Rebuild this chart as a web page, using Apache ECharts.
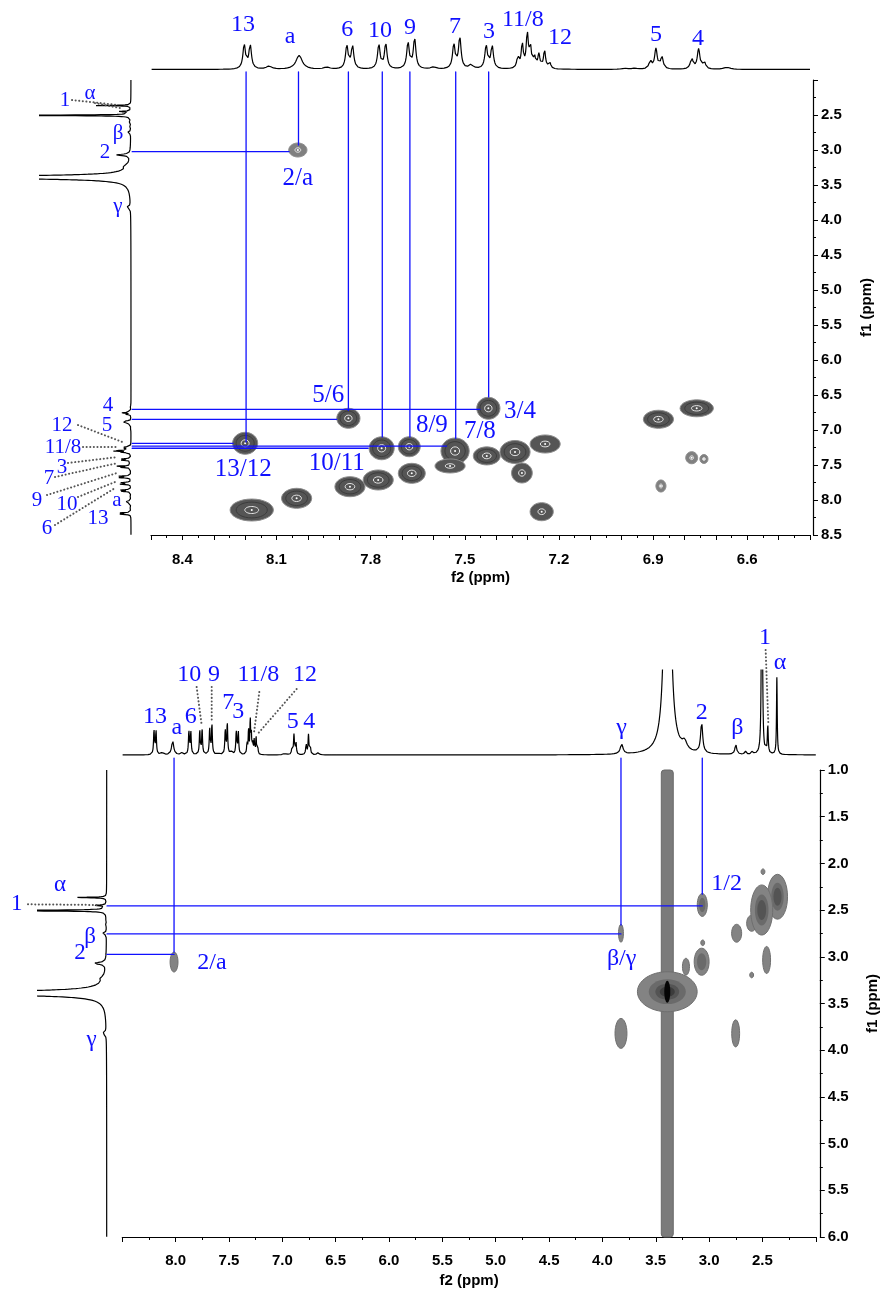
<!DOCTYPE html>
<html>
<head>
<meta charset="utf-8">
<script src="https://cdn.jsdelivr.net/npm/echarts@6/dist/echarts.min.js"></script>
<style>
  html, body { margin: 0; padding: 0; background: #fff; }
  #chart { width: 889px; height: 1300px; }
</style>
</head>
<body>
<div id="chart"></div>
<script>
// 1H peaks, aromatic region: shift (ppm), intensity, half width (ppm)
const aromPpm = [8.203, 8.184, 8.124, 8.028, 7.940, 7.876, 7.858, 7.774, 7.752, 7.681, 7.660, 7.600, 7.535, 7.516, 7.480, 7.432, 7.413, 7.331, 7.317, 7.301, 7.291, 7.278, 7.264, 7.246, 7.230, 6.990, 6.960, 6.909, 6.891, 6.872, 6.777, 6.755, 6.737, 6.665];
const aromInt = [24, 24, 3, 14, 2, 23, 23, 24, 25, 26, 30, 2, 24, 31, 4, 23, 23, 12, 24, 34, 20, 11, 14, 18, 7, 1, 1, 8, 20, 12, 11, 20, 7, 2];
const aromWid = [.005, .005, .01, .012, .01, .005, .005, .005, .005, .005, .005, .01, .005, .005, .008, .005, .005, .004, .004, .004, .004, .004, .004, .004, .004, .01, .01, .005, .005, .005, .005, .005, .005, .012];
// aliphatic region + solvents (water 3.39, DMSO 2.50)
const aliphPpm = [3.82, 3.39, 3.23, 3.07, 2.75, 2.66, 2.595, 2.505, 2.45, 2.365];
const aliphInt = [10, 556, 8, 30, 10, 3, 3, 400, 28, 77];
const aliphWid = [0.015, 0.02, 0.025, 0.012, 0.01, 0.008, 0.008, 0.004, 0.005, 0.004];

// cross peaks, aromatic COSY: f2, f1, half extent f2, half extent f1 (ppm), contour levels
const aromSpots = [
  [8.032, 3.00, 0.029, 0.10, 1],
  [7.425, 6.69, 0.037, 0.157, 3],
  [7.871, 6.833, 0.037, 0.143, 3],
  [8.200, 7.19, 0.040, 0.157, 3],
  [7.765, 7.261, 0.040, 0.164, 3],
  [7.677, 7.239, 0.035, 0.143, 3],
  [7.531, 7.30, 0.045, 0.186, 3],
  [7.547, 7.514, 0.048, 0.10, 2],
  [7.430, 7.37, 0.043, 0.129, 3],
  [7.340, 7.314, 0.048, 0.164, 3],
  [7.244, 7.20, 0.048, 0.129, 2],
  [7.318, 7.614, 0.033, 0.143, 2],
  [7.866, 7.81, 0.048, 0.143, 3],
  [7.776, 7.714, 0.048, 0.143, 3],
  [7.669, 7.619, 0.043, 0.143, 3],
  [8.036, 7.976, 0.048, 0.143, 3],
  [8.179, 8.143, 0.069, 0.157, 3],
  [7.255, 8.167, 0.037, 0.129, 2],
  [6.883, 6.847, 0.048, 0.129, 3],
  [6.761, 6.69, 0.053, 0.121, 3],
  [6.777, 7.396, 0.019, 0.086, 1],
  [6.738, 7.414, 0.013, 0.064, 1],
  [6.875, 7.80, 0.016, 0.086, 1]
];
// cross peaks, full COSY
const aliphSpots = [
  [8.015, 3.056, 0.037, 0.107, 1],
  [3.064, 2.445, 0.047, 0.123, 2],
  [3.826, 2.748, 0.023, 0.096, 1],
  [3.070, 3.053, 0.070, 0.145, 2],
  [3.217, 3.106, 0.033, 0.090, 1],
  [3.060, 2.850, 0.018, 0.030, 1],
  [2.742, 2.748, 0.047, 0.096, 1],
  [2.601, 2.641, 0.047, 0.086, 1],
  [2.461, 3.034, 0.037, 0.145, 1],
  [2.495, 2.089, 0.018, 0.030, 1],
  [2.601, 3.195, 0.018, 0.030, 1],
  [2.359, 2.357, 0.094, 0.240, 3],
  [2.507, 2.499, 0.103, 0.268, 3],
  [3.826, 3.820, 0.056, 0.160, 1],
  [2.751, 3.820, 0.037, 0.145, 1],
  [3.392, 3.374, 0.280, 0.214, 4]
];
// water t1 ridge: f2, f1 from, f1 to, half width (ppm)
const waterRidge = [[3.392, 1.0, 6.0, 0.056]];

// assignment lines: f2, f1 -> f2, f1
const aromLinks = [
  [8.197, 1.886, 8.197, 7.17], [8.030, 1.886, 8.030, 2.93], [7.871, 1.886, 7.871, 6.72],
  [7.763, 1.886, 7.763, 7.10], [7.675, 1.886, 7.675, 7.10], [7.529, 1.886, 7.529, 7.12],
  [7.424, 1.886, 7.424, 6.53],
  [8.56, 3.024, 8.06, 3.024], [8.56, 6.704, 7.452, 6.704], [8.56, 6.847, 7.908, 6.847],
  [8.56, 7.19, 8.238, 7.19], [8.56, 7.229, 7.558, 7.229], [8.56, 7.261, 7.808, 7.261]
];
const aliphLinks = [
  [8.015, 0.872, 8.015, 2.95], [3.826, 0.872, 3.826, 2.66], [3.064, 0.872, 3.064, 2.33],
  [8.643, 2.455, 3.064, 2.455], [8.643, 2.755, 3.826, 2.755], [8.643, 2.975, 8.015, 2.975]
];

// labels: text, f2 (or intensity), f1 (or intensity)
const aromTopLabels = [['13', 8.207, 44.5], ['a', 8.057, 33], ['6', 7.875, 39.5], ['10', 7.77, 39], ['9', 7.675, 42], ['7', 7.531, 43], ['3', 7.423, 37.5], ['11/8', 7.315, 50], ['12', 7.197, 32], ['5', 6.891, 35], ['4', 6.757, 31]];
const aromCrossLabels = [['2/a', 8.032, 3.4], ['5/6', 7.935, 6.5], ['3/4', 7.324, 6.74], ['8/9', 7.605, 6.93], ['7/8', 7.452, 7.02], ['13/12', 8.206, 7.57], ['10/11', 7.908, 7.48]];
const aromSideLabels = [['1', 66, 2.286], ['α', 41, 2.186], ['β', 13, 2.757], ['2', 26, 3.029], ['γ', 13, 3.814], ['4', 23, 6.643], ['5', 24, 6.929], ['12', 69, 6.929], ['11/8', 68, 7.243], ['3', 69, 7.529], ['7', 82, 7.686], ['9', 94, 8.014], ['10', 64, 8.071], ['a', 14, 8.0], ['13', 33, 8.271], ['6', 84, 8.414]];
const aromSideDots = [[59, 2.286, 13, 2.357], [36, 2.33, 8, 2.41], [53, 6.929, 6, 7.186], [48, 7.243, 13, 7.243], [63, 7.471, 13, 7.386], [76, 7.671, 13, 7.471], [84, 7.929, 14, 7.614], [53, 7.957, 16, 7.743], [76, 8.357, 16, 7.829]];

const aliphTopLabels = [['13', 8.194, 38], ['a', 7.99, 27], ['6', 7.859, 38], ['10', 7.872, 80], ['9', 7.641, 80], ['7', 7.507, 52], ['3', 7.413, 43], ['11/8', 7.225, 80], ['12', 6.788, 80], ['5', 6.903, 33], ['4', 6.747, 33], ['γ', 3.82, 27], ['2', 3.07, 42], ['β', 2.736, 27], ['1', 2.477, 117], ['α', 2.336, 92]];
const aliphTopDots = [[7.803, 68, 7.756, 30], [7.662, 68, 7.662, 33], [7.216, 63, 7.266, 22], [6.866, 66, 7.24, 20], [2.47, 105, 2.445, 32]];
const aliphSideLabels = [['α', 46.7, 2.231], ['1', 90, 2.435], ['β', 16.7, 2.785], ['2', 26.7, 2.963], ['γ', 15, 3.891]];
const aliphSideDots = [[78.7, 2.438, 9.7, 2.445]];
const aliphCrossLabels = [['1/2', 2.836, 2.213], ['β/γ', 3.82, 3.016], ['2/a', 7.66, 3.066]];

const BLUE = '#1010ff';
const allPpm = aromPpm.concat(aliphPpm);
const allInt = aromInt.concat(aliphInt);
const allWid = aromWid.concat(aliphWid);

function intensityAt(x) {
  let s = 0;
  for (let i = 0; i < allPpm.length; i++) {
    const d = (x - allPpm[i]) / allWid[i];
    s += allInt[i] / (1 + d * d);
  }
  return s;
}
// 1D trace from the peak list; vertical = f1 projection on the left
function trace(lo, hi, scale, vertical) {
  const out = [];
  const n = Math.round((hi - lo) / 0.001);
  for (let k = 0; k <= n; k++) {
    const x = lo + k * 0.001;
    const v = intensityAt(x) * scale;
    out.push(vertical ? [v, x] : [x, v]);
  }
  return out;
}

function renderAromSpot(params, api) {
  const c = api.coord([api.value(0), api.value(1)]);
  const s = api.size([api.value(2), api.value(3)]);
  const lvl = api.value(4);
  const kids = [{ type: 'ellipse', shape: { cx: c[0], cy: c[1], rx: s[0], ry: s[1] },
    style: { fill: lvl > 1 ? '#555555' : '#808080', stroke: '#8c8c8c', lineWidth: 1 } }];
  if (lvl > 2) kids.push({ type: 'ellipse', shape: { cx: c[0], cy: c[1], rx: s[0] * 0.72, ry: s[1] * 0.72 },
    style: { fill: 'none', stroke: '#3c3c3c', lineWidth: 1 } });
  kids.push({ type: 'ellipse', shape: { cx: c[0], cy: c[1], rx: Math.max(1.5, s[0] * 0.32), ry: Math.max(1.5, s[1] * 0.32) },
    style: { fill: 'none', stroke: '#e4e4e4', lineWidth: 1 } });
  kids.push({ type: 'circle', shape: { cx: c[0], cy: c[1], r: 1 }, style: { fill: '#ffffff' } });
  return { type: 'group', children: kids };
}

function renderAliphSpot(params, api) {
  const c = api.coord([api.value(0), api.value(1)]);
  const s = api.size([api.value(2), api.value(3)]);
  const lvl = api.value(4);
  const shades = ['#838383', '#6a6a6a', '#545454', '#3c3c3c'];
  const fr = [1, 0.62, 0.4, 0.25];
  const kids = [];
  for (let i = 0; i < lvl; i++) {
    kids.push({ type: 'ellipse', shape: { cx: c[0], cy: c[1], rx: s[0] * fr[i], ry: s[1] * fr[i] },
      style: { fill: shades[i], stroke: i === 0 ? '#6f6f6f' : null, lineWidth: 1 } });
  }
  if (lvl >= 4) kids.push({ type: 'ellipse', shape: { cx: c[0], cy: c[1], rx: 3, ry: s[1] * 0.55 }, style: { fill: '#050505' } });
  return { type: 'group', children: kids };
}

function renderRidge(params, api) {
  const a = api.coord([api.value(0), api.value(1)]);
  const b = api.coord([api.value(0), api.value(2)]);
  const w = api.size([api.value(3), 0])[0];
  return { type: 'rect', shape: { x: a[0] - w, y: a[1], width: 2 * w, height: b[1] - a[1], r: 3 },
    style: { fill: '#7b7b7b', stroke: '#686868', lineWidth: 1 } };
}

function segRenderer(color, width, dash) {
  return function (params, api) {
    const a = api.coord([api.value(0), api.value(1)]);
    const b = api.coord([api.value(2), api.value(3)]);
    return { type: 'line', shape: { x1: a[0], y1: a[1], x2: b[0], y2: b[1] },
      style: { stroke: color, lineWidth: width, lineDash: dash, lineCap: 'round' } };
  };
}

function labelRenderer(list, size) {
  return function (params, api) {
    const it = list[params.dataIndex];
    const c = api.coord([it[1], it[2]]);
    return { type: 'text', x: c[0], y: c[1],
      style: { text: it[0], fill: BLUE, font: size + 'px "Liberation Serif", "Times New Roman", serif', align: 'center', verticalAlign: 'middle' } };
  };
}

function hidden(grid, extra) {
  return Object.assign({ gridIndex: grid, type: 'value', show: false, splitLine: { show: false } }, extra);
}

const axisText = { color: '#000', fontSize: 15, fontWeight: 'bold', fontFamily: '"Liberation Sans", Arial, sans-serif' };
const axisLine = { show: true, onZero: false, lineStyle: { color: '#000', width: 1.2 } };

function custom(x, y, data, render, z) {
  return { type: 'custom', xAxisIndex: x, yAxisIndex: y, coordinateSystem: 'cartesian2d',
    data: data, renderItem: render, encode: { x: 0, y: 1 }, silent: true, z: z };
}
function lineTrace(x, y, data) {
  return { type: 'line', xAxisIndex: x, yAxisIndex: y, data: data, showSymbol: false, symbol: 'none',
    clip: true, silent: true, lineStyle: { color: '#000', width: 1.2 }, z: 3 };
}

const chart = echarts.init(document.getElementById('chart'));
const option = {
  animation: false,
  backgroundColor: '#fff',
  grid: [
    { left: 151, top: 15, width: 659, height: 60 },
    { left: 40, top: 80, width: 100, height: 455 },
    { left: 151, top: 80, width: 659, height: 455 },
    { left: 122.3, top: 670, width: 693.5, height: 95 },
    { left: 38, top: 770, width: 80, height: 467 },
    { left: 122.3, top: 770, width: 693.5, height: 467 }
  ],
  xAxis: [
    hidden(0, { inverse: true, min: 6.4, max: 8.5 }),
    hidden(1, { inverse: true, min: -9, max: 91 }),
    { gridIndex: 2, type: 'value', inverse: true, min: 6.4, max: 8.5, interval: 0.1,
      axisLine: axisLine, splitLine: { show: false },
      axisTick: { show: true, length: 5, lineStyle: { color: '#000' } },
      minorTick: { show: true, splitNumber: 2, length: 3, lineStyle: { color: '#000' } },
      axisLabel: Object.assign({ margin: 17, formatter: v => (Math.round(v * 10) % 3 === 0 ? v.toFixed(1) : '') }, axisText),
      name: 'f2 (ppm)', nameLocation: 'middle', nameGap: 35, nameTextStyle: axisText },
    hidden(3, { inverse: true, min: 2, max: 8.5 }),
    hidden(4, { inverse: true, min: -11.3, max: 68.7 }),
    { gridIndex: 5, type: 'value', inverse: true, min: 2, max: 8.5, interval: 0.5,
      axisLine: axisLine, splitLine: { show: false },
      axisTick: { show: true, length: 5, lineStyle: { color: '#000' } },
      minorTick: { show: true, splitNumber: 2, length: 3, lineStyle: { color: '#000' } },
      axisLabel: Object.assign({ margin: 16, formatter: v => (v > 8.2 || v < 2.2 ? '' : v.toFixed(1)) }, axisText),
      name: 'f2 (ppm)', nameLocation: 'middle', nameGap: 36, nameTextStyle: axisText }
  ],
  yAxis: [
    hidden(0, { min: -5.5, max: 54.5 }),
    hidden(1, { inverse: true, min: 2, max: 8.5 }),
    { gridIndex: 2, type: 'value', inverse: true, min: 2, max: 8.5, interval: 0.5, position: 'right', offset: 3,
      axisLine: axisLine, splitLine: { show: false },
      axisTick: { show: true, length: 5, lineStyle: { color: '#000' } },
      minorTick: { show: true, splitNumber: 2, length: 3, lineStyle: { color: '#000' } },
      axisLabel: Object.assign({ margin: 8, formatter: v => (v < 2.4 ? '' : v.toFixed(1)) }, axisText),
      name: 'f1 (ppm)', nameLocation: 'middle', nameRotate: 90, nameGap: 46, nameTextStyle: axisText },
    hidden(3, { min: -10, max: 85 }),
    hidden(4, { inverse: true, min: 1, max: 6 }),
    { gridIndex: 5, type: 'value', inverse: true, min: 1, max: 6, interval: 0.5, position: 'right', offset: 4,
      axisLine: axisLine, splitLine: { show: false },
      axisTick: { show: true, length: 5, lineStyle: { color: '#000' } },
      minorTick: { show: true, splitNumber: 2, length: 3, lineStyle: { color: '#000' } },
      axisLabel: Object.assign({ margin: 8, formatter: v => v.toFixed(1) }, axisText),
      name: 'f1 (ppm)', nameLocation: 'middle', nameRotate: 90, nameGap: 46, nameTextStyle: axisText }
  ],
  series: [
    // 1D projections
    lineTrace(0, 0, trace(6.4, 8.5, 1.0, false)),
    lineTrace(1, 1, trace(2.0, 8.5, 0.45, true)),
    lineTrace(3, 3, trace(2.0, 8.5, 1.0, false)),
    lineTrace(4, 4, trace(1.0, 6.0, 0.4, true)),
    // contour peaks
    custom(2, 2, aromSpots, renderAromSpot, 2),
    custom(5, 5, waterRidge, renderRidge, 1),
    custom(5, 5, aliphSpots, renderAliphSpot, 2),
    // assignment lines
    custom(2, 2, aromLinks, segRenderer(BLUE, 1.3, null), 4),
    custom(5, 5, aliphLinks, segRenderer(BLUE, 1.3, null), 4),
    // dotted leaders
    custom(1, 1, aromSideDots, segRenderer('#555', 2, [0.1, 3.5]), 4),
    custom(3, 3, aliphTopDots, segRenderer('#555', 2, [0.1, 3.5]), 4),
    custom(4, 4, aliphSideDots, segRenderer('#555', 2, [0.1, 3.5]), 4),
    // labels
    custom(0, 0, aromTopLabels.map(d => [d[1], d[2]]), labelRenderer(aromTopLabels, 24), 5),
    custom(2, 2, aromCrossLabels.map(d => [d[1], d[2]]), labelRenderer(aromCrossLabels, 25), 5),
    custom(1, 1, aromSideLabels.map(d => [d[1], d[2]]), labelRenderer(aromSideLabels, 21), 5),
    custom(3, 3, aliphTopLabels.map(d => [d[1], d[2]]), labelRenderer(aliphTopLabels, 24), 5),
    custom(4, 4, aliphSideLabels.map(d => [d[1], d[2]]), labelRenderer(aliphSideLabels, 23), 5),
    custom(5, 5, aliphCrossLabels.map(d => [d[1], d[2]]), labelRenderer(aliphCrossLabels, 24), 5)
  ]
};
chart.setOption(option);
</script>
</body>
</html>
